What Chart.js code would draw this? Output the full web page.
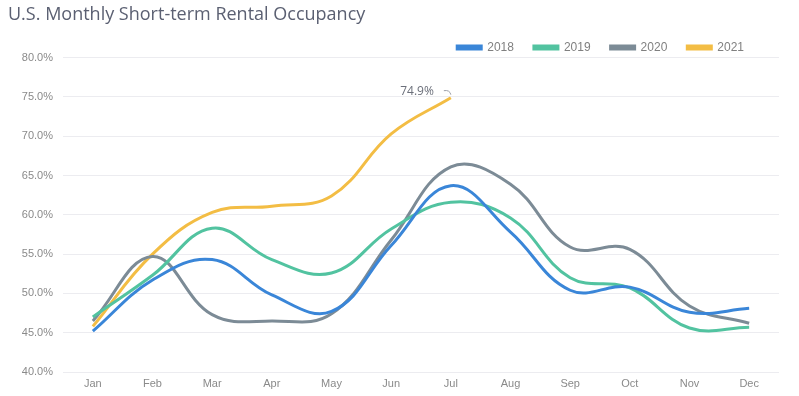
<!DOCTYPE html>
<html>
<head>
<meta charset="utf-8">
<script src="https://cdn.jsdelivr.net/npm/chart.js@4"></script>
<style>
  html, body { margin: 0; padding: 0; background: #fff; }
  #wrap { width: 799px; height: 396px; position: relative; }
</style>
</head>
<body>
<div id="wrap"><canvas id="chart"></canvas></div>
<script>
const months = ['Jan', 'Feb', 'Mar', 'Apr', 'May', 'Jun', 'Jul', 'Aug', 'Sep', 'Oct', 'Nov', 'Dec'];
const occ2018 = [45.2, 51.7, 54.3, 49.8, 47.7, 56.1, 63.7, 57.8, 50.4, 50.8, 47.6, 48.1];
const occ2019 = [47.0, 52.3, 58.3, 54.3, 52.6, 58.2, 61.6, 59.6, 52.0, 50.7, 45.6, 45.7];
const occ2020 = [46.5, 54.7, 47.3, 46.5, 47.4, 56.8, 66.1, 63.9, 55.9, 55.6, 48.4, 46.2];
const occ2021 = [45.8, 55.0, 60.3, 61.1, 62.4, 70.3, 74.9];
const callout = { series: 3, index: 6, text: '74.9%' };

const ctx = document.getElementById('chart');

// the "74.9%" note next to the last 2021 point
const calloutPlugin = {
    id: 'callout',
    afterInit(chart) {
        // tighten the legend box a bit so the plot starts where the original does
        const leg = chart.legend;
        if (leg) {
            const fit = leg.fit;
            leg.fit = function () {
                fit.call(this);
                this.height -= 6;
            };
        }
    },
    afterLayout(chart) {
        // legend sits a little in from the right edge in the original
        if (chart.legend) chart.legend.right -= 15;
    },
    afterDatasetsDraw(chart) {
        const meta = chart.getDatasetMeta(callout.series);
        const pt = meta.data[callout.index];
        if (!pt) return;
        const c = chart.ctx;
        c.save();
        c.strokeStyle = '#9a9ea8';
        c.lineWidth = 1;
        c.beginPath();
        c.moveTo(pt.x - 7, pt.y - 7);
        c.quadraticCurveTo(pt.x - 1, pt.y - 8, pt.x, pt.y - 3);
        c.stroke();
        c.fillStyle = '#6b6f7a';
        c.font = '12px "Open Sans", sans-serif';
        c.textAlign = 'right';
        c.textBaseline = 'middle';
        c.fillText(callout.text, pt.x - 17, pt.y - 6);
        c.restore();
    }
};

function line(label, data, color) {
    return {
        label: label,
        data: data,
        borderColor: color,
        backgroundColor: color,
        borderWidth: 3,
        pointRadius: 0,
        tension: 0.4,
        fill: false
    };
}

new Chart(ctx, {
    type: 'line',
    data: {
        labels: months,
        datasets: [
            line('2018', occ2018, '#3a86d8'),
            line('2019', occ2019, '#52c3a0'),
            line('2020', occ2020, '#7c8b96'),
            line('2021', occ2021, '#f3bd44')
        ]
    },
    options: {
        responsive: true,
        maintainAspectRatio: false,
        animation: false,
        layout: { padding: { left: 8, right: 20, top: 4, bottom: 0 } },
        plugins: {
            title: {
                display: true,
                text: 'U.S. Monthly Short-term Rental Occupancy',
                align: 'start',
                color: '#5b6072',
                font: { family: '"Open Sans", sans-serif', size: 18, weight: 'normal' },
                padding: { top: 0, bottom: -4 }
            },
            legend: {
                align: 'end',
                labels: {
                    boxWidth: 24,
                    boxHeight: 3,
                    color: '#808080',
                    font: { family: '"Liberation Sans", Arial, sans-serif', size: 12 },
                    padding: 20
                }
            },
            tooltip: { enabled: false }
        },
        scales: {
            x: {
                offset: true,
                grid: { display: false, drawTicks: false },
                border: { display: false },
                ticks: {
                    color: '#8a8a8a',
                    font: { family: '"Liberation Sans", Arial, sans-serif', size: 11 },
                    maxRotation: 0,
                    padding: 5
                },
                afterFit(scale) { scale.height = 24; }
            },
            y: {
                min: 40,
                max: 80,
                border: { display: false },
                grid: { color: '#ececf0', drawTicks: false },
                ticks: {
                    stepSize: 5,
                    color: '#8a8a8a',
                    font: { family: '"Liberation Sans", Arial, sans-serif', size: 11 },
                    padding: 10,
                    callback: v => v.toFixed(1) + '%'
                },
                afterFit(scale) { scale.width = 55; }
            }
        }
    },
    plugins: [calloutPlugin]
});
</script>
</body>
</html>
